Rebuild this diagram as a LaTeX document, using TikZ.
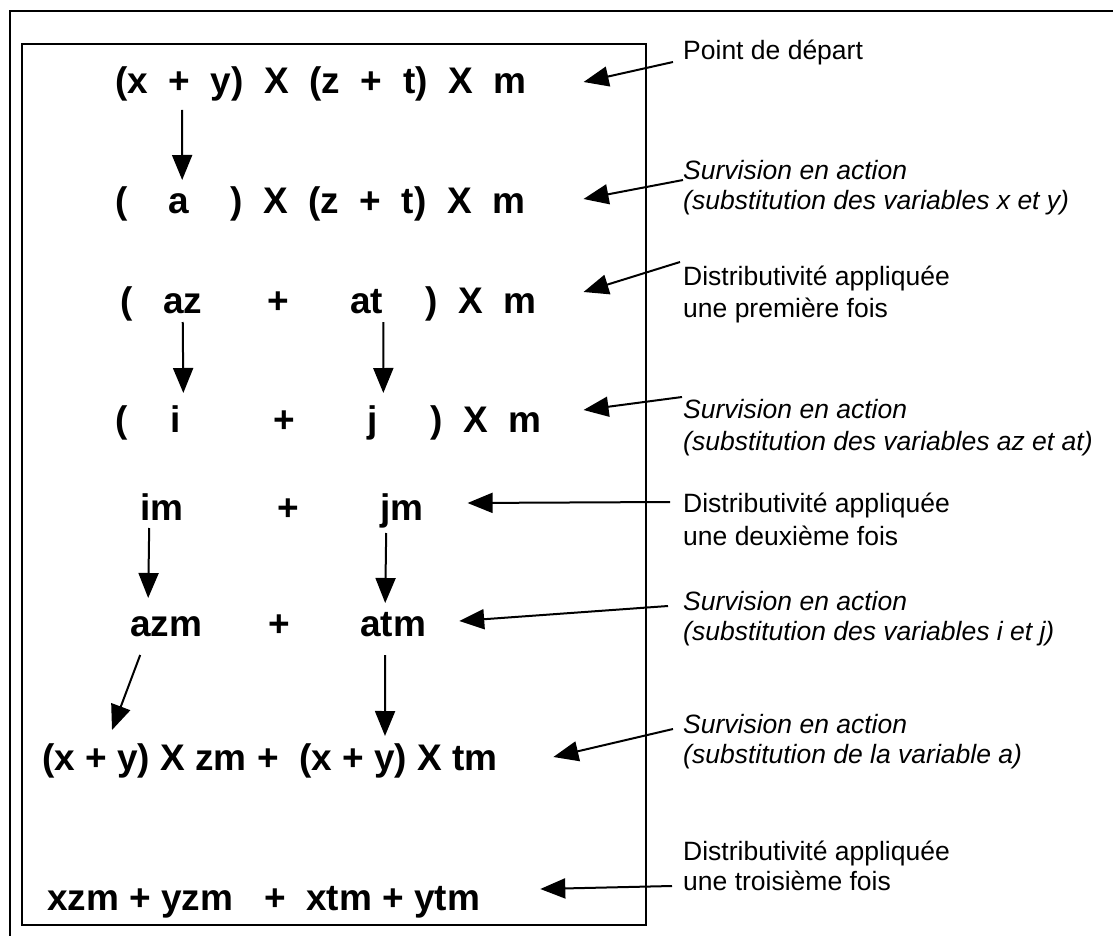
\documentclass[tikz,border=0pt]{standalone}
\usepackage{fontspec}
\setmainfont{Liberation Sans}
\usetikzlibrary{arrows.meta,calc}
\begin{document}
\begin{tikzpicture}[x=1pt,y=-1pt,
  ex/.style={font=\fontsize{37}{40}\selectfont\bfseries, inner sep=0pt, anchor=base west},
  lab/.style={font=\fontsize{26.5}{31}\selectfont, inner sep=0pt, anchor=base west},
  labi/.style={font=\fontsize{26.5}{31}\selectfont\itshape, inner sep=0pt, anchor=base west},
  arr/.style={line width=2pt, -{Triangle[length=25pt,width=20pt]}},
  frame/.style={line width=2.5pt}]
\useasboundingbox (0,0) rectangle (1113,936);
\fill[white] (0,0) rectangle (1113,936);
\draw[frame] (10,936) -- (10,11) -- (1113,11);
\draw[frame] (22,44) rectangle (646,925);
% row 1
\node[ex] (r1) at (115,94) {(x\ \ +\ \ y)\ \ X\ \ (z\ \ +\ \ t)\ \ X\ \ m};
% row 2
\node[ex] (r2o) at (115,213) {(};
\node[ex] (r2a) at (168,213) {a};
\node[ex] (r2c) at (230,213) {)};
\node[ex] (r2r) at (263,213) {X\ \ (z\ \ +\ \ t)\ \ X\ \ m};
% row 3
\node[ex] (r3o) at (120,313) {(};
\node[ex] (r3az) at (163,313) {az};
\node[ex] (r3p) at (267,313) {+};
\node[ex] (r3at) at (350,313) {at};
\node[ex] (r3c) at (425,313) {)};
\node[ex] (r3r) at (458,313) {X\ \ m};
% row 4
\node[ex] (r4o) at (115,432) {(};
\node[ex] (r4i) at (170,432) {i};
\node[ex] (r4p) at (273,432) {+};
\node[ex] (r4j) at (367,432) {j};
\node[ex] (r4c) at (430,432) {)};
\node[ex] (r4r) at (463,432) {X\ \ m};
% row 5
\node[ex] (r5im) at (140,520) {im};
\node[ex] (r5p) at (277,520) {+};
\node[ex] (r5jm) at (380,520) {jm};
% row 6
\node[ex] (r6azm) at (130,636) {azm};
\node[ex] (r6p) at (268,636) {+};
\node[ex] (r6atm) at (360,636) {atm};
% row 7
\node[ex] (r7) at (42,770) {(x + y) X zm +\ \ (x + y) X tm};
% row 8
\node[ex] (r8) at (47,910) {xzm + yzm\ \ \ +\ \ xtm + ytm};
% labels
\node[lab] (L1) at (683,60) {Point de départ};
\node[labi] (L2a) at (683,180) {Survision en action};
\node[labi] (L2b) at (683,210) {(substitution des variables x et y)};
\node[lab] (L3a) at (683,285) {Distributivité appliquée};
\node[lab] (L3b) at (683,317) {une première fois};
\node[labi] (L4a) at (683,418) {Survision en action};
\node[labi] (L4b) at (683,450) {(substitution des variables az et at)};
\node[lab] (L5a) at (683,512) {Distributivité appliquée};
\node[lab] (L5b) at (683,545) {une deuxième fois};
\node[labi] (L6a) at (683,610) {Survision en action};
\node[labi] (L6b) at (683,640) {(substitution des variables i et j)};
\node[labi] (L7a) at (683,733) {Survision en action};
\node[labi] (L7b) at (683,763) {(substitution de la variable a)};
\node[lab] (L8a) at (683,860) {Distributivité appliquée};
\node[lab] (L8b) at (683,890) {une troisième fois};
% vertical arrows
\draw[arr] ($(r1.base west)+(67,16)$) -- ($(r2a.base)+(3.7,-33)$);
\draw[arr] ($(r3az.base)+(0,9)$) -- ($(r4i.base)+(8,-39)$);
\draw[arr] ($(r3at.base)+(16.6,9)$) -- ($(r4j.base)+(11,-39)$);
\draw[arr] ($(r5im.base)+(-12.6,8)$) -- ($(r6azm.base)+(-18,-38)$);
\draw[arr] ($(r5jm.base)+(-15.6,13)$) -- ($(r6atm.base)+(-7.9,-33)$);
\draw[arr] ($(r6azm.base)+(-26,19)$) -- ($(r7.base west)+(70,-40)$);
\draw[arr] ($(r6atm.base)+(-7.9,19)$) -- ($(r7.base west)+(343,-34)$);
% label arrows
\draw[arr] ($(L1.base west)+(-10,2)$) -- ($(r1.base east)+(57,-12)$);
\draw[arr] ($(L2a.base west)+(0,0)$) -- ($(r2r.base east)+(58,-14)$);
\draw[arr] ($(L3a.base west)+(-3,-23)$) -- ($(r3r.base east)+(47,-21)$);
\draw[arr] ($(L4a.base west)+(-1,-21)$) -- ($(r4r.base east)+(42,-22)$);
\draw[arr] ($(L5a.base west)+(-13,-10)$) -- ($(r5jm.base east)+(44,-17)$);
\draw[arr] ($(L6a.base west)+(-15,-4)$) -- ($(r6atm.base east)+(33,-15)$);
\draw[arr] ($(L7a.base west)+(-10,-4)$) -- ($(r7.base east)+(55.5,-13)$);
\draw[arr] ($(L8b.base west)+(-11,-4)$) -- ($(r8.base east)+(60,-21)$);
\end{tikzpicture}
\end{document}
